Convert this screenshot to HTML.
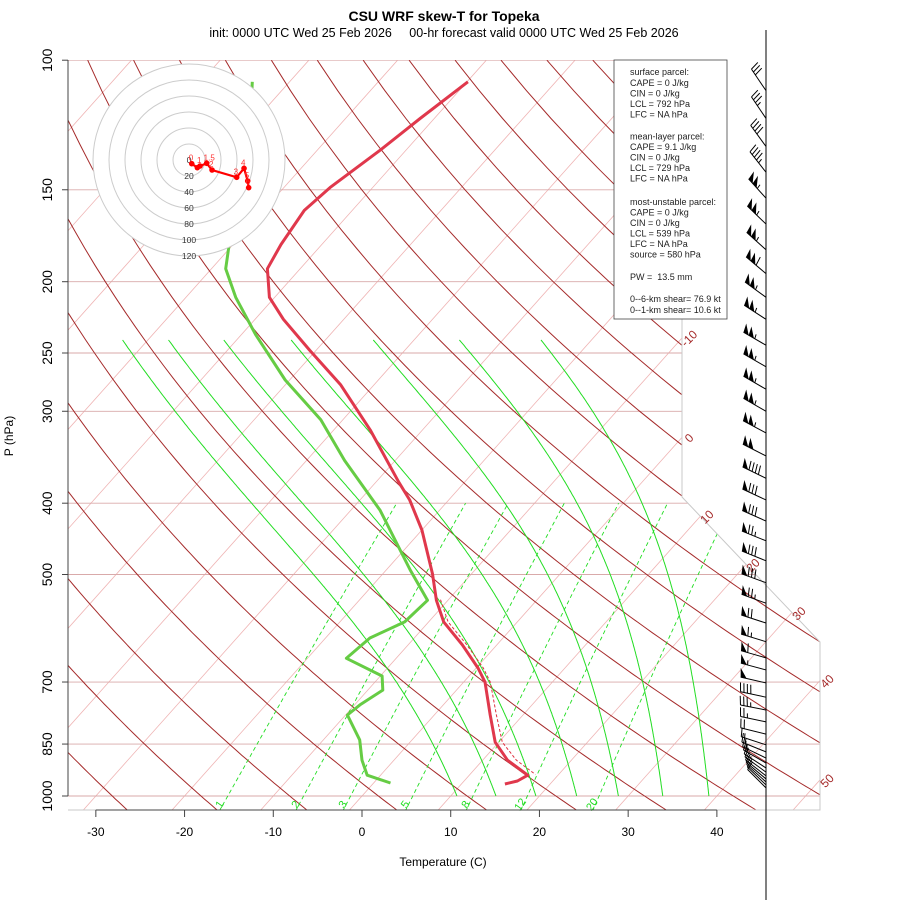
<!DOCTYPE html>
<html><head><meta charset="utf-8"><title>CSU WRF skew-T for Topeka</title>
<style>
body{margin:0;background:#fff;}
svg{display:block;font-family:"Liberation Sans",sans-serif;}
</style></head>
<body>
<svg id="chart" width="900" height="900" viewBox="0 0 900 900" xmlns="http://www.w3.org/2000/svg">
<defs>
<clipPath id="plotclip"><polygon points="68,60 682,60 682,497 820,642 820,810 68,810"/></clipPath>
</defs>
<rect width="900" height="900" fill="#fff"/>
<text x="444" y="21" text-anchor="middle" font-size="14" font-weight="bold">CSU WRF skew-T for Topeka</text>
<text x="444" y="37" text-anchor="middle" font-size="12.5" style="white-space:pre">init: 0000 UTC Wed 25 Feb 2026     00-hr forecast valid 0000 UTC Wed 25 Feb 2026</text>
<g id="bg" clip-path="url(#plotclip)"></g>
<g id="traces"></g>
<g id="axes"></g>
<g id="hodo"></g>
<g id="barbs"></g>
<g font-size="9" fill="#222">
<rect x="614" y="60" width="113" height="259" fill="#fff" stroke="#444" stroke-width="0.8"/>
<text x="630" y="75">surface parcel:</text>
<text x="630" y="86">CAPE = 0 J/kg</text>
<text x="630" y="96.5">CIN = 0 J/kg</text>
<text x="630" y="107">LCL = 792 hPa</text>
<text x="630" y="117.5">LFC = NA hPa</text>
<text x="630" y="139.5">mean-layer parcel:</text>
<text x="630" y="150">CAPE = 9.1 J/kg</text>
<text x="630" y="160.5">CIN = 0 J/kg</text>
<text x="630" y="171">LCL = 729 hPa</text>
<text x="630" y="181.5">LFC = NA hPa</text>
<text x="630" y="205">most-unstable parcel:</text>
<text x="630" y="215.5">CAPE = 0 J/kg</text>
<text x="630" y="226">CIN = 0 J/kg</text>
<text x="630" y="236.5">LCL = 539 hPa</text>
<text x="630" y="247">LFC = NA hPa</text>
<text x="630" y="257.5">source = 580 hPa</text>
<text x="630" y="280" style="white-space:pre">PW =  13.5 mm</text>
<text x="630" y="302">0--6-km shear= 76.9 kt</text>
<text x="630" y="313">0--1-km shear= 10.6 kt</text>
</g>
<script>
// ---- data ----
const tPres=[107,120,132.5,149,160,178,192,210,225,248,276,318,374,396,435,499,542,580,623,670,700,776,845,894,937,954,963];
const tTemp=[-59.9,-61.6,-62.9,-64.8,-65.4,-64.6,-63.7,-60.6,-56.8,-50.7,-43.8,-35.9,-27.5,-24.4,-20.0,-14.4,-11.3,-8.3,-3.9,0.2,2.4,6.3,9.6,12.8,16.6,16.0,14.9];
const dPres=[107,115,181,192,210,236,272,308,350,409,493,542,580,610,650,687,718,752,776,839,894,937,960];
const dTemp=[-84.2,-82,-70,-68.4,-64.4,-58.4,-50.5,-42.5,-35.7,-26.7,-17.3,-12.3,-12.7,-15,-15.6,-9.8,-8.3,-9.4,-9.8,-5.9,-3.6,-1.5,1.9];
const tvPres=[541,580,623,670,700,776,845,894,935];
const tvTemp=[-10.9,-7.8,-3.4,0.8,3.0,7.0,10.4,13.8,17.4];
const tempTicks=[-30,-20,-10,0,10,20,30,40];
const presTicks=[100,150,200,250,300,400,500,700,850,1000];
const isoLabels=[-10,0,10,20,30,40,50];
const mixRatios=[1,2,3,5,8,12,20];
const moistStart=[10.7,15.1,19.6,24.2,28.9,33.9,39.1];
const hodoU=[3.4,10.4,13.8,22.1,28.8,59.6,68.8,73.4,74.6];
const hodoV=[-4.6,-9.6,-7.5,-4.1,-12.5,-21.6,-10.4,-26.3,-34.6];
const hodoLbl=['0','','1','1.5','2','3','4','5','6'];
const hodoRings=[20,40,60,80,100,120];
const barbPres=[110,120,131,142,154,167,181,195,210,225,244,261,280,300,321,345,370,396,423,450,479,513,547,582,617,649,674,702,734,764,793,824,852,871,888,902,916,928,939,948,957,966,975];
const barbSpd=[30,35,40,45,105,105,105,110,105,105,105,105,105,105,105,100,90,80,80,75,80,80,75,70,65,60,55,50,40,35,25,20,15,15,15,15,10,10,10,10,10,10,10];
const barbDir=[326,326,324,322,318,314,312,310,306,303,300,300,300,300,298,297,296,295,294,292,292,290,290,288,287,286,285,283,282,281,282,284,288,292,296,300,303,306,308,310,312,314,315];

// ---- axis functions ----
const L=p=>Math.log10(1000/p);
const yOf=p=>796-735.8*L(p);
const xOf=(T,p)=>362+8.872*T+656.6*L(p);
const NS='http://www.w3.org/2000/svg';
function mk(tag,attrs,parent){const e=document.createElementNS(NS,tag);for(const k in attrs)e.setAttribute(k,attrs[k]);parent.appendChild(e);return e;}
function pathD(ps,ts){return ps.map((p,i)=>(i?'L':'M')+xOf(ts[i],p).toFixed(1)+','+yOf(p).toFixed(1)).join('');}
const bg=document.getElementById('bg'),tr=document.getElementById('traces'),ax=document.getElementById('axes');

// isotherms
for(let T=-160;T<=50;T+=10){
  const e=mk('line',{x1:xOf(T,1050),y1:yOf(1050),x2:xOf(T,100),y2:yOf(100),stroke:'#efb4b4','stroke-width':0.8},bg);
  
  
}
// pressure lines
presTicks.forEach(p=>{
  const e=mk('line',{x1:68,y1:yOf(p),x2:820,y2:yOf(p),stroke:'#d9aaaa','stroke-width':0.9},bg);
  
  
});
// dry adiabats
for(let th=215;th<=515;th+=10){
  const ps=[],ts=[];
  for(let p=1050;p>=100;p-=10){ps.push(p);ts.push(th*Math.pow(p/1000,0.286)-273.15);}
  const e=mk('path',{d:pathD(ps,ts),fill:'none',stroke:'#a52a2a','stroke-width':1},bg);
  
  
}
// mixing ratio lines
function tdFromW(w,p){const e=w*p/(622+w);const l=Math.log(e/6.112);return 243.5*l/(17.67-l)+2.0;}
mixRatios.forEach(w=>{
  const ps=[],ts=[];
  for(let p=1050;p>=400;p-=10){ps.push(p);ts.push(tdFromW(w,p));}
  const e=mk('path',{d:pathD(ps,ts),fill:'none',stroke:'#22dd22','stroke-width':0.9,'stroke-dasharray':'4,3'},bg);
  
  
  const lx=xOf(tdFromW(w,1030),1030),ly=yOf(1030)+1;
  const t=mk('text',{x:lx,y:ly,fill:'#22dd22','font-size':11,'text-anchor':'middle',transform:`rotate(-55 ${lx} ${ly})`},ax);
  t.textContent=w;
  
  
});
// moist adiabats (approximate, latent factor tuned to reference appearance)
function rs(T,p,f){const es=6.112*Math.exp(17.67*T/(T+243.5));return f*0.622*es/(p-es);}
moistStart.forEach(T0=>{
  const f=0.53+0.25*Math.exp(-(T0-10.7)/10)-0.0025*Math.pow(Math.max(0,T0-28),1.5);
  let T=T0+273.15;const ps=[1000],ts=[T0];
  for(let p=1000;p>240;p-=2){
    const r=rs(T-273.15,p,f);
    const dTdp=(287*T+2.5e6*r)/(1004+2.5e6*2.5e6*r*0.622/(287*T*T))/p;
    T-=dTdp*2;ps.push(p-2);ts.push(T-273.15);
  }
  const e=mk('path',{d:pathD(ps,ts),fill:'none',stroke:'#22dd22','stroke-width':1},bg);
  
  
});
// boundary
const bd=mk('polyline',{points:'682,60 682,497 820,642 820,810 68,810',fill:'none',stroke:'#c8c8c8','stroke-width':1},ax);


// isotherm labels
isoLabels.forEach(T=>{
  let best=null;
  for(let p=1050;p>=100;p-=1){const x=xOf(T,p),y=yOf(p);
    const bx= y<497?682:(y<642?682+(y-497)*138/145:820);
    if(x>=bx){best=[bx,y];break;}}
  if(!best)return;
  const lx=best[0]+10,ly=best[1]+4;
  const t=mk('text',{x:lx,y:ly,fill:'#a52a2a','font-size':12,'text-anchor':'middle',transform:`rotate(-45 ${lx} ${ly})`},ax);
  t.textContent=T;
  
  
});
// traces
let e=mk('path',{d:pathD(dPres,dTemp),fill:'none',stroke:'#66cc44','stroke-width':3,'stroke-linejoin':'round'},tr);


e=mk('path',{d:pathD(tvPres,tvTemp),fill:'none',stroke:'#e03040','stroke-width':1,'stroke-dasharray':'3,2'},tr);


e=mk('path',{d:pathD(tPres,tTemp),fill:'none',stroke:'#e0384c','stroke-width':3,'stroke-linejoin':'round'},tr);


// axes
mk('line',{x1:68,y1:60,x2:68,y2:796,stroke:'#444','stroke-width':1},ax);
presTicks.forEach(p=>{
  mk('line',{x1:62,y1:yOf(p),x2:68,y2:yOf(p),stroke:'#444'},ax);
  const y=yOf(p);
  const t=mk('text',{x:52,y:y,'font-size':14,'text-anchor':'middle',transform:`rotate(-90 52 ${y})`},ax);
  t.textContent=p;
  
  
});
mk('line',{x1:xOf(-30,1000),y1:810,x2:xOf(40,1000),y2:810,stroke:'#444'},ax);
tempTicks.forEach(T=>{
  const x=xOf(T,1000);
  mk('line',{x1:x,y1:810,x2:x,y2:817,stroke:'#444'},ax);
  const t=mk('text',{x:x,y:836,'font-size':12,'text-anchor':'middle'},ax);
  t.textContent=T;
  
  
});
let t=mk('text',{x:443,y:866,'font-size':12,'text-anchor':'middle'},ax);t.textContent='Temperature (C)';


t=mk('text',{x:13,y:436,'font-size':12,'text-anchor':'middle',transform:'rotate(-90 13 436)'},ax);t.textContent='P (hPa)';


// hodograph
const hg=document.getElementById('hodo'),hcx=189,hcy=160,hs=0.8;
mk('circle',{cx:hcx,cy:hcy,r:96,fill:'#fff'},hg);
hodoRings.forEach(r=>{
  const c=mk('circle',{cx:hcx,cy:hcy,r:r*hs,fill:'none',stroke:'#cccccc','stroke-width':1},hg);
  
  
  const l=mk('text',{x:hcx,y:hcy+r*hs+3,'font-size':8.5,'text-anchor':'middle',fill:'#333'},hg);
  l.textContent=r;
});
let l0=mk('text',{x:hcx,y:hcy+3,'font-size':8.5,'text-anchor':'middle',fill:'#333'},hg);l0.textContent='0';
const hx=i=>hcx+hodoU[i]*hs,hy=i=>hcy-hodoV[i]*hs;
e=mk('path',{d:hodoU.map((u,i)=>(i?'L':'M')+hx(i)+','+hy(i)).join(''),fill:'none',stroke:'#ff0000','stroke-width':2.2},hg);


hodoU.forEach((u,i)=>{
  const c=mk('circle',{cx:hx(i),cy:hy(i),r:2.8,fill:'#ff0000'},hg);
  
  
  if(hodoLbl[i]){const tt=mk('text',{x:hx(i)-3,y:hy(i)-3,'font-size':8,fill:'#ff3030'},hg);tt.textContent=hodoLbl[i];}
});
// wind barbs
const bgp=document.getElementById('barbs');
mk('line',{x1:766,y1:30,x2:766,y2:900,stroke:'#000','stroke-width':1},bgp);
barbPres.forEach((p,i)=>{
  const g=mk('g',{},bgp);
  
  
  const a=barbDir[i]*Math.PI/180,dx=Math.sin(a),dy=-Math.cos(a);
  const bx=766,by=yOf(p),len=26;
  const tx=bx+dx*len,ty=by+dy*len;
  mk('line',{x1:bx,y1:by,x2:tx,y2:ty,stroke:'#000','stroke-width':1},g);
  const px=-dy,py=dx; // perpendicular
  const fx=px*9+dx*2,fy=py*9+dy*2;
  let s=Math.round(barbSpd[i]/5)*5,pos=0;
  while(s>=50){
    const ax1=tx-dx*pos,ay1=ty-dy*pos,ax2=tx-dx*(pos+6),ay2=ty-dy*(pos+6);
    mk('polygon',{points:`${ax1},${ay1} ${ax1+fx},${ay1+fy} ${ax2},${ay2}`,fill:'#000'},g);
    pos+=6;s-=50;
  }
  if(pos>0)pos+=1;
  while(s>=10){const ax1=tx-dx*pos,ay1=ty-dy*pos;
    mk('line',{x1:ax1,y1:ay1,x2:ax1+fx,y2:ay1+fy,stroke:'#000','stroke-width':1},g);pos+=3.5;s-=10;}
  if(s>=5){if(pos===0)pos=3.5;const ax1=tx-dx*pos,ay1=ty-dy*pos;
    mk('line',{x1:ax1,y1:ay1,x2:ax1+fx*0.5,y2:ay1+fy*0.5,stroke:'#000','stroke-width':1},g);}
});
</script>
</svg>
</body></html>
